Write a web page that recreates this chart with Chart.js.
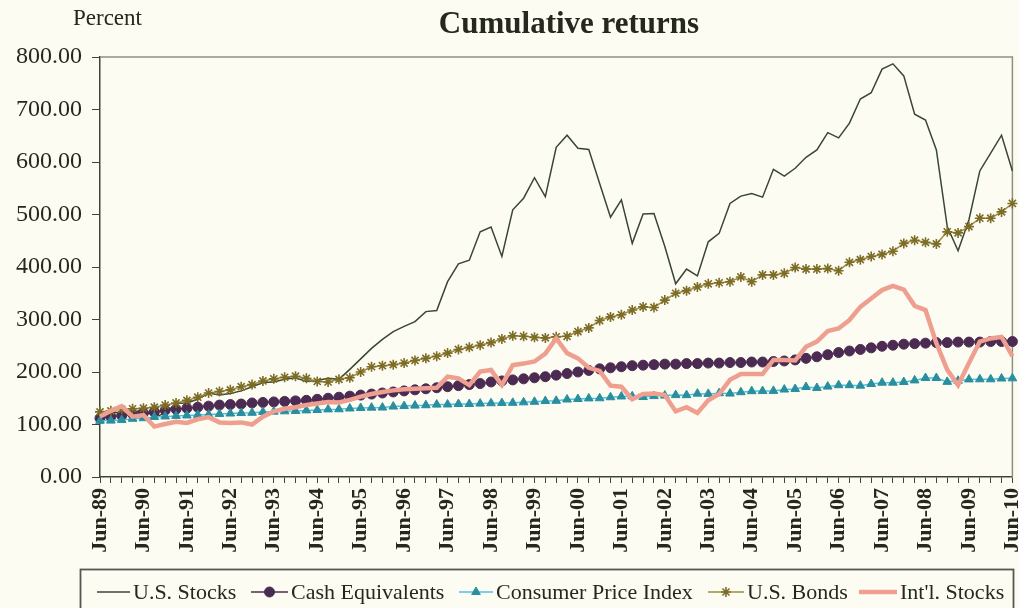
<!DOCTYPE html>
<html>
<head>
<meta charset="utf-8">
<title>Cumulative returns</title>
<script src="https://cdn.jsdelivr.net/npm/chart.js@4.4.1/dist/chart.umd.min.js"></script>
<style>
  html, body { margin: 0; padding: 0; background: #fdfcf3; }
  #wrap { width: 1019px; height: 608px; position: relative; }
</style>
</head>
<body>
<div id="wrap"><canvas id="returnsChart"></canvas></div>
<script>
// --- Data: quarter ends, Jun-89 .. Jun-10 ---
const quarters = [
  'Jun-89','Sep-89','Dec-89','Mar-90', 'Jun-90','Sep-90','Dec-90','Mar-91',
  'Jun-91','Sep-91','Dec-91','Mar-92', 'Jun-92','Sep-92','Dec-92','Mar-93',
  'Jun-93','Sep-93','Dec-93','Mar-94', 'Jun-94','Sep-94','Dec-94','Mar-95',
  'Jun-95','Sep-95','Dec-95','Mar-96', 'Jun-96','Sep-96','Dec-96','Mar-97',
  'Jun-97','Sep-97','Dec-97','Mar-98', 'Jun-98','Sep-98','Dec-98','Mar-99',
  'Jun-99','Sep-99','Dec-99','Mar-00', 'Jun-00','Sep-00','Dec-00','Mar-01',
  'Jun-01','Sep-01','Dec-01','Mar-02', 'Jun-02','Sep-02','Dec-02','Mar-03',
  'Jun-03','Sep-03','Dec-03','Mar-04', 'Jun-04','Sep-04','Dec-04','Mar-05',
  'Jun-05','Sep-05','Dec-05','Mar-06', 'Jun-06','Sep-06','Dec-06','Mar-07',
  'Jun-07','Sep-07','Dec-07','Mar-08', 'Jun-08','Sep-08','Dec-08','Mar-09',
  'Jun-09','Sep-09','Dec-09','Mar-10', 'Jun-10'
];

const usStocks = [
  113, 122, 124, 120,  131, 113, 122, 140,  141, 148, 160, 156,
  159, 164, 172, 180,  181, 186, 189, 182,  184, 188, 186, 205,
  225, 245, 262, 277,  287, 296, 315, 317,  372, 406, 413, 467,
  476, 420, 509, 531,  570, 534, 628, 651,  626, 624, 559, 495,
  528, 445, 501, 502,  439, 368, 396, 383,  448, 464, 521, 535,
  540, 533, 586, 573,  588, 609, 623, 656,  646, 674, 720, 732,
  777, 787, 764, 691,  680, 623, 477, 431,  490, 583, 617, 651,
  583
];

const cashEquivalents = [
  112, 115, 117, 120,  122, 124, 127, 129,  131, 133, 135, 137,
  138, 139, 141, 142,  143, 144, 145, 146,  148, 150, 152, 154,
  156, 158, 160, 162,  164, 166, 168, 170,  172, 174, 176, 178,
  181, 183, 185, 187,  189, 191, 194, 197,  200, 203, 206, 208,
  210, 212, 213, 214,  215, 215, 216, 216,  217, 217, 218, 218,
  219, 219, 220, 221,  223, 226, 229, 233,  237, 240, 243, 246,
  249, 251, 253, 254,  255, 256, 256, 257,  257, 257, 258, 258,
  258
];

const consumerPrices = [
  107.0, 107.4, 108.7, 110.9,  112.0, 114.4, 115.3, 116.4,  117.2, 118.3, 118.9, 120.1,
  120.9, 121.8, 122.3, 123.8,  124.5, 125.1, 125.7, 126.9,  127.6, 128.8, 129.0, 130.5,
  131.5, 132.1, 132.3, 134.2,  135.1, 136.0, 136.7, 137.9,  138.2, 139.0, 139.0, 139.8,
  140.5, 141.0, 141.3, 142.2,  143.3, 144.7, 145.1, 147.6,  148.6, 149.7, 150.0, 151.9,
  153.4, 153.7, 152.3, 154.1,  155.1, 156.0, 155.9, 158.8,  158.3, 159.6, 158.9, 161.5,
  163.5, 163.7, 164.0, 166.6,  167.7, 171.4, 169.6, 172.2,  174.9, 174.9, 174.0, 177.1,
  179.6, 179.7, 181.0, 184.0,  188.6, 188.6, 181.2, 183.3,  185.9, 186.1, 186.1, 187.6,
  187.9
];

const usBonds = [
  124, 126, 129, 130,  131, 133, 137, 141,  146, 152, 160, 163,
  166, 172, 176, 183,  187, 190, 192, 188,  182, 181, 186, 189,
  200, 210, 212, 214,  217, 222, 226, 230,  236, 243, 247, 251,
  256, 263, 269, 268,  266, 265, 267, 268,  277, 284, 298, 305,
  309, 318, 324, 323,  337, 350, 355, 362,  368, 370, 372, 381,
  372, 385, 385, 388,  399, 396, 396, 397,  393, 409, 414, 420,
  424, 430, 445, 451,  447, 444, 467, 465,  477, 493, 493, 505,
  521
];

const intlStocks = [
  115, 126, 135, 115,  118,  96, 101, 105,  103, 110, 114, 104,
  103, 104, 100, 115,  125, 130, 133, 137,  140, 143, 142, 147,
  153, 158, 162, 165,  167, 168, 169, 170,  191, 188, 175, 201,
  204, 175, 213, 216,  220, 235, 264, 236,  226, 208, 202, 174,
  172, 148, 158, 159,  156, 125, 133, 122,  146, 158, 185, 196,
  196, 196, 223, 223,  222, 248, 258, 278,  283, 299, 324, 340,
  356, 364, 357, 326,  318, 255, 204, 175,  217, 258, 264, 267,
  230
];

const yTickValues = [0, 100, 200, 300, 400, 500, 600, 700, 800];

// --- Styling ---
const SERIF = '"Liberation Serif", "Times New Roman", serif';
const inkColor = '#262820';

const series = [
  { label: 'U.S. Stocks', data: usStocks, color: '#3a4634', width: 1.5, marker: false, order: 4 },
  { label: 'Cash Equivalents', data: cashEquivalents, color: '#4c2b52', width: 1.5,
    marker: { style: 'circle', radius: 5, fill: '#4c2b52', stroke: '#4c2b52' }, order: 3 },
  { label: 'Consumer Price Index', data: consumerPrices, color: '#48c4e2', width: 1.5,
    marker: { style: 'triangle', radius: 5, fill: '#2a8e9e', stroke: '#2a8e9e' }, order: 2 },
  { label: 'U.S. Bonds', data: usBonds, color: '#9c8c45', width: 1.5,
    marker: { style: 'star', radius: 5, fill: '#c8b446', stroke: '#7d6c26' }, order: 1 },
  { label: "Int'l. Stocks", data: intlStocks, color: '#ee9f8f', width: 4.5, marker: false, order: 0 }
];

// legend sample positions (x of line start, line end, text start)
const legendSlots = [
  { x1: 97,  x2: 130, tx: 133 },
  { x1: 251, x2: 288, tx: 291 },
  { x1: 459, x2: 493, tx: 496 },
  { x1: 708, x2: 744, tx: 747 },
  { x1: 859, x2: 897, tx: 900 }
];

const datasets = series.map(s => ({
  label: s.label,
  data: s.data,
  order: s.order,
  borderColor: s.color,
  borderWidth: s.width,
  backgroundColor: s.marker ? s.marker.fill : s.color,
  pointStyle: s.marker ? s.marker.style : 'circle',
  pointRadius: s.marker ? s.marker.radius : 0,
  pointBackgroundColor: s.marker ? s.marker.fill : s.color,
  pointBorderColor: s.marker ? s.marker.stroke : s.color,
  pointBorderWidth: s.marker && s.marker.style === 'star' ? 1.6 : 1,
  pointHoverRadius: 0,
  tension: 0,
  fill: false
}));

// frame, title, "Percent" and an Excel style legend box
const framePlugin = {
  id: 'framePlugin',
  beforeDatasetsDraw(chart) {
    const { ctx, chartArea: a } = chart;
    ctx.save();
    ctx.strokeStyle = '#8e907f';
    ctx.lineWidth = 1.5;
    ctx.beginPath();
    ctx.moveTo(a.left, a.top);
    ctx.lineTo(a.right, a.top);
    ctx.lineTo(a.right, a.bottom);
    ctx.stroke();
    ctx.restore();
  },
  afterDraw(chart) {
    const ctx = chart.ctx;
    ctx.save();
    ctx.fillStyle = inkColor;
    ctx.textBaseline = 'alphabetic';

    ctx.font = 'bold 31px ' + SERIF;
    ctx.textAlign = 'center';
    ctx.fillText('Cumulative returns', 569, 33);

    ctx.font = '23px ' + SERIF;
    ctx.textAlign = 'left';
    ctx.fillText('Percent', 73, 25);

    // legend box
    ctx.strokeStyle = '#555';
    ctx.lineWidth = 1.8;
    ctx.strokeRect(80.5, 569.5, 933, 60);

    const ly = 592;
    ctx.font = '22px ' + SERIF;
    series.forEach((s, i) => {
      const slot = legendSlots[i];
      ctx.strokeStyle = s.color;
      ctx.lineWidth = s.width;
      ctx.beginPath();
      ctx.moveTo(slot.x1, ly);
      ctx.lineTo(slot.x2, ly);
      ctx.stroke();
      if (s.marker) {
        ctx.fillStyle = s.marker.fill;
        ctx.strokeStyle = s.marker.stroke;
        ctx.lineWidth = s.marker.style === 'star' ? 1.6 : 1;
        Chart.helpers.drawPoint(ctx, {
          pointStyle: s.marker.style, radius: s.marker.radius, rotation: 0, borderWidth: ctx.lineWidth
        }, (slot.x1 + slot.x2) / 2, ly);
      }
      ctx.fillStyle = inkColor;
      ctx.fillText(s.label, slot.tx, 599);
    });
    ctx.restore();
  }
};

const ctx = document.getElementById('returnsChart').getContext('2d');
new Chart(ctx, {
  type: 'line',
  data: { labels: quarters, datasets: datasets },
  options: {
    responsive: true,
    maintainAspectRatio: false,
    animation: false,
    layout: { padding: { left: 0, right: 6, top: 57, bottom: 0 } },
    plugins: {
      legend: { display: false },
      title: { display: false },
      tooltip: { enabled: false }
    },
    scales: {
      x: {
        type: 'category',
        offset: false,
        grid: { drawOnChartArea: false, drawTicks: true, tickLength: 6, color: '#3d4636', lineWidth: 1 },
        border: { color: '#3d4636', width: 1.5 },
        ticks: {
          autoSkip: false,
          maxRotation: 90,
          minRotation: 90,
          padding: 5,
          color: inkColor,
          font: { family: SERIF, size: 22, weight: 'bold' },
          callback: function (value) {
            const lbl = this.getLabelForValue(value);
            return lbl.startsWith('Jun') ? lbl : '';
          }
        },
        afterFit(scale) {
          scale.height = 131;
          scale.paddingLeft = 0;
          scale.paddingRight = 0;
        }
      },
      y: {
        min: yTickValues[0],
        max: yTickValues[yTickValues.length - 1],
        grid: { drawOnChartArea: false, drawTicks: true, tickLength: 8, color: '#3d4636', lineWidth: 1 },
        border: { color: '#3d4636', width: 1.5 },
        ticks: {
          stepSize: yTickValues[1] - yTickValues[0],
          padding: 10,
          color: inkColor,
          font: { family: SERIF, size: 24 },
          callback: v => v.toFixed(2)
        },
        afterFit(scale) {
          scale.width = 100;
          scale.paddingTop = 0;
          scale.paddingBottom = 0;
        }
      }
    }
  },
  plugins: [framePlugin]
});
</script>
</body>
</html>
